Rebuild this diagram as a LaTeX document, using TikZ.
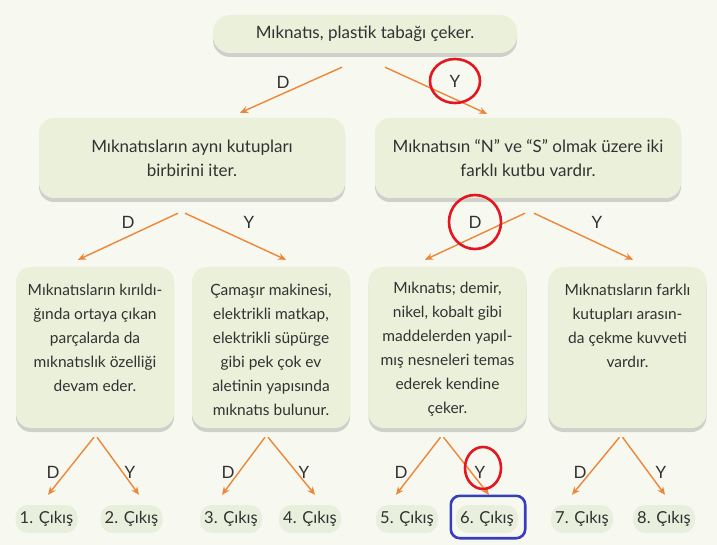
\documentclass[tikz,border=0pt]{standalone}
\usepackage{fontspec}
\setmainfont{Lato}
\usetikzlibrary{positioning,calc,shadows,arrows.meta}

\definecolor{bgcol}{RGB}{247,249,241}
\definecolor{boxcol}{RGB}{234,240,218}
\definecolor{pillcol}{RGB}{232,239,220}
\definecolor{arrowcol}{RGB}{238,134,56}
\definecolor{txtcol}{RGB}{50,50,50}
\definecolor{ringred}{RGB}{228,22,32}
\definecolor{ringblue}{RGB}{55,62,190}

\begin{document}
\begin{tikzpicture}[x=1pt, y=-1pt,
    every node/.style={text=txtcol, font=\fontsize{15.5}{24}\selectfont},
    big/.style={font=\fontsize{17}{24}\selectfont},
    box/.style={fill=boxcol, rounded corners=15pt,
      drop shadow={shadow xshift=0pt, shadow yshift=-4pt, opacity=0.3, fill=black!55}},
    midbox/.style={box, big, minimum width=306pt, minimum height=80pt, align=center},
    cbox/.style={box, minimum width=158pt, minimum height=161pt},
    ctext/.style={align=center, inner sep=0pt},
    pill/.style={fill=pillcol, rounded corners=12pt, minimum height=28pt,
      minimum width=62pt, inner xsep=4pt, font=\fontsize{16.5}{20}\selectfont},
    arr/.style={draw=arrowcol, line width=1.4pt, -{Stealth[length=8pt, width=7pt]}},
    lbl/.style={inner sep=1pt, big},
    ring/.style={draw=ringred, line width=2.6pt}]

  \fill[bgcol] (0,0) rectangle (717,545);
  \useasboundingbox (0,0) rectangle (717,545);

  % question boxes
  \node[box, big, minimum width=304pt, minimum height=38pt, rounded corners=17pt]
    (top) at (365,34) {Mıknatıs, plastik tabağı çeker.};

  \node[midbox] (b1) at (192,158) {Mıknatısların aynı kutupları\\birbirini iter.};
  \node[midbox] (b2) at (528,158) {Mıknatısın “N” ve “S” olmak üzere iki\\farklı kutbu vardır.};

  \node[cbox] (c1) at (95,347.5) {};
  \node[cbox] (c2) at (271,347.5) {};
  \node[cbox] (c3) at (447.5,347.5) {};
  \node[cbox] (c4) at (627.5,347.5) {};
  \node[ctext, below=17pt of c1.north] (t1) {Mıknatısların kırıldı-\\ğında ortaya çıkan\\parçalarda da\\mıknatıslık özelliği\\devam eder.};
  \node[ctext, below=17pt of c2.north] (t2) {Çamaşır makinesi,\\elektrikli matkap,\\elektrikli süpürge\\gibi pek çok ev\\aletinin yapısında\\mıknatıs bulunur.};
  \node[ctext, below=15pt of c3.north] (t3) {Mıknatıs; demir,\\nikel, kobalt gibi\\maddelerden yapıl-\\mış nesneleri temas\\ederek kendine\\çeker.};
  \node[ctext, below=17pt of c4.north] (t4) {Mıknatısların farklı\\kutupları arasın-\\da çekme kuvveti\\vardır.};

  % exits
  \foreach \n/\x in {1/46.5, 2/131.5, 3/231, 4/310, 5/407, 6/487, 7/582, 8/664}
    \node[pill] (d\n) at (\x,519) {\n. Çıkış};

  % arrows
  \draw[arr] ($(top.south)+(-23,14)$) -- ($(b1.north)+(48,-5)$);
  \draw[arr] ($(top.south)+(20,14)$) -- ($(b2.north)+(-41,-4)$);
  \draw[arr] ($(b1.south)+(-14,15)$) -- ($(c1.north)+(-17,-7)$);
  \draw[arr] ($(b1.south)+(-7,15)$) -- ($(c2.north)+(15,-7)$);
  \draw[arr] ($(b2.south)+(-3,15)$) -- ($(c3.north)+(-22.5,-7)$);
  \draw[arr] ($(b2.south)+(6,15)$) -- ($(c4.north)+(5.5,-7)$);
  \foreach \a/\b/\u/\v in {c1/d1/-1/1.5, c1/d2/2/7.5, c2/d3/-6/-9, c2/d4/-3/5,
      c3/d5/-7/-11, c3/d6/-4/2, c4/d7/-8/-10, c4/d8/-5/1}
    \draw[arr] ($(\a.south)+(\u,9)$) -- ($(\b.north)+(\v,-10)$);

  % answers
  \node[lbl] (l1) at (283,82) {D};
  \node[lbl] (l2) at (455,81) {Y};
  \node[lbl] (l3) at (128,222) {D};
  \node[lbl] (l4) at (249,222) {Y};
  \node[lbl] (l5) at (475,222) {D};
  \node[lbl] (l6) at (597,222) {Y};
  \foreach \i/\x/\t in {7/53/D, 8/130/Y, 9/228/D, 10/304/Y, 11/401/D, 12/480/Y, 13/580/D, 14/661/Y}
    \node[lbl] (l\i) at (\x,472) {\t};

  % marks
  \draw[ring] (l2) ellipse (25 and 22);
  \draw[ring] (l5) ellipse (26 and 27);
  \draw[ring] ($(l12)+(3,-4)$) ellipse (18 and 21);
  \draw[draw=ringblue, line width=2.6pt, rounded corners=9pt]
    ($(d6.north west)+(-5,-9)$) rectangle ($(d6.south east)+(7,5)$);
\end{tikzpicture}
\end{document}
